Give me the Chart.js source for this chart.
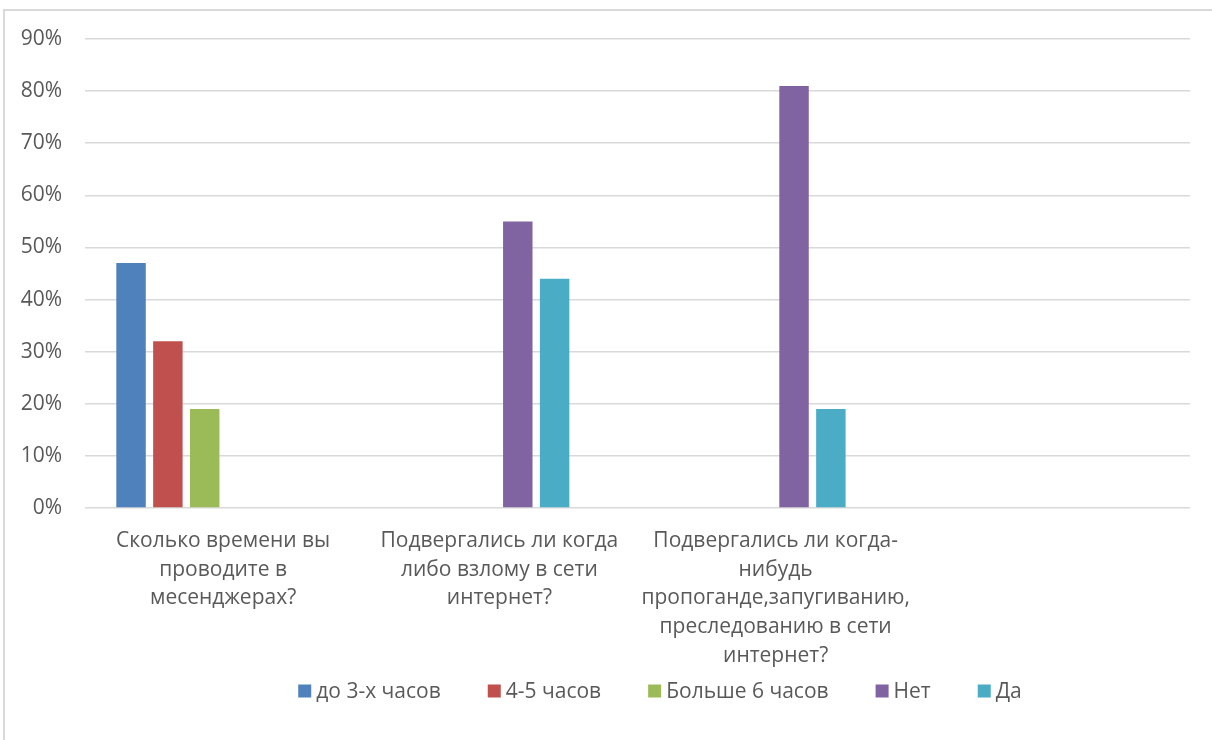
<!DOCTYPE html>
<html>
<head>
<meta charset="utf-8">
<script src="https://cdn.jsdelivr.net/npm/chart.js@4/dist/chart.umd.min.js"></script>
<style>
  html, body { margin: 0; padding: 0; background: #fff; overflow: hidden; }
  #wrap { position: relative; width: 1212px; height: 740px; }
  #frame { position: absolute; left: 3px; top: 9px; width: 1300px; height: 800px; border: 2px solid #d9d9d9; box-sizing: border-box; }
  #chart { position: absolute; left: 0; top: 0; }
</style>
</head>
<body>
<div id="wrap">
  <div id="frame"></div>
  <canvas id="chart" width="1212" height="740"></canvas>
</div>
<script>
var categories = [
  ['Сколько времени вы', 'проводите в', 'месенджерах?'],
  ['Подвергались ли когда', 'либо взлому в сети', 'интернет?'],
  ['Подвергались ли когда-', 'нибудь', 'пропоганде,запугиванию,', 'преследованию в сети', 'интернет?'],
  ''
];
var seriesNames = ['до 3-х часов', '4-5 часов', 'Больше 6 часов', 'Нет', 'Да'];
var upTo3h   = [47, null, null, null];
var h4to5    = [32, null, null, null];
var over6h   = [19, null, null, null];
var answerNo = [null, 55, 81, null];
var answerYes = [null, 44, 19, null];
var emptySlot = [null, null, null, null];
var yTicks = [0, 10, 20, 30, 40, 50, 60, 70, 80, 90];

var colors = ['#4F81BD', '#C0504D', '#9BBB59', '#8064A2', '#4BACC6', '#F79646'];
var textColor = '#595959';
var fontFamily = '"Open Sans", "DejaVu Sans", sans-serif';
var fontSize = 21;

var seriesData = [upTo3h, h4to5, over6h, answerNo, answerYes, emptySlot];
var datasets = seriesData.map(function(d, i) {
  return {
    label: seriesNames[i] || '',
    data: d,
    backgroundColor: colors[i],
    borderWidth: 0,
    barPercentage: 0.8,
    categoryPercentage: 0.8,
    inLegend: i < seriesNames.length
  };
});

/* legend drawn by hand so it can sit off-centre like the Excel one */
var legendPlugin = {
  id: 'excelLegend',
  afterDraw: function(chart) {
    var c = chart.ctx;
    var box = 13, boxGap = 5, itemGap = 47;
    var centerX = 660, centerY = 691;
    c.save();
    c.font = fontSize + 'px ' + fontFamily;
    var items = chart.data.datasets.filter(function(ds) { return ds.inLegend; });
    var total = 0;
    items.forEach(function(ds, i) {
      total += box + boxGap + c.measureText(ds.label).width + (i < items.length - 1 ? itemGap : 0);
    });
    var x = centerX - total / 2;
    c.textBaseline = 'middle';
    c.textAlign = 'left';
    items.forEach(function(ds) {
      c.fillStyle = ds.backgroundColor;
      c.fillRect(x, centerY - box / 2, box, box);
      x += box + boxGap;
      c.fillStyle = textColor;
      c.fillText(ds.label, x, centerY + 1);
      x += c.measureText(ds.label).width + itemGap;
    });
    c.restore();
  }
};

new Chart(document.getElementById('chart'), {
  type: 'bar',
  data: { labels: categories, datasets: datasets },
  options: {
    responsive: false,
    animation: false,
    layout: { padding: { top: 39, right: 22, bottom: 0, left: 0 } },
    plugins: {
      legend: { display: false },
      tooltip: { enabled: false }
    },
    scales: {
      x: {
        grid: { display: false },
        border: { display: false },
        ticks: {
          color: textColor,
          font: { family: fontFamily, size: fontSize, lineHeight: 1.36 },
          padding: 11,
          maxRotation: 0,
          autoSkip: false
        },
        afterFit: function(axis) { axis.height = 232; }
      },
      y: {
        min: 0,
        max: 90,
        afterBuildTicks: function(axis) {
          axis.ticks = yTicks.map(function(v) { return { value: v }; });
        },
        grid: { color: '#d9d9d9', lineWidth: 1.5, drawTicks: false },
        border: { display: false },
        ticks: {
          color: textColor,
          font: { family: fontFamily, size: fontSize },
          padding: 23,
          callback: function(v) { return v + '%'; }
        },
        afterFit: function(axis) { axis.width = 85; }
      }
    }
  },
  plugins: [legendPlugin]
});
</script>
</body>
</html>
